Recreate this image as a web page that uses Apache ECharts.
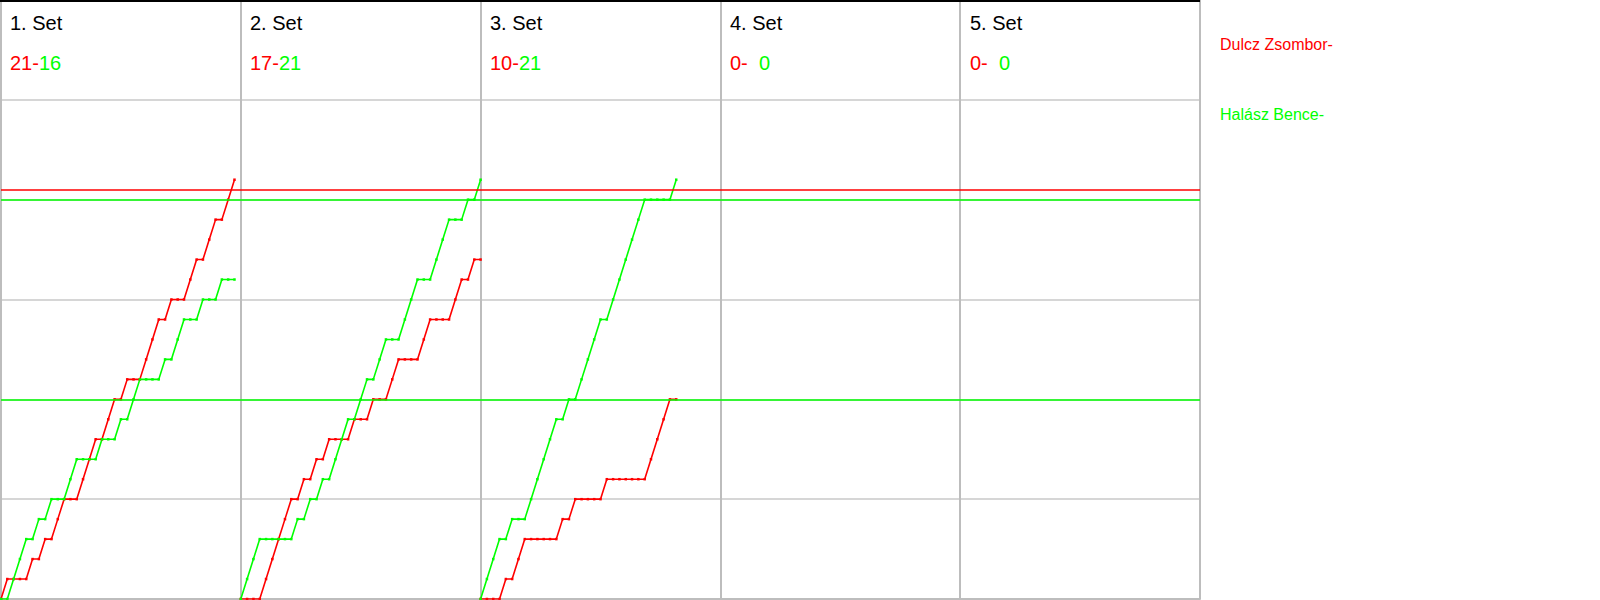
<!DOCTYPE html>
<html>
<head>
<meta charset="utf-8">
<script src="https://cdn.jsdelivr.net/npm/echarts@6/dist/echarts.min.js"></script>
<style>
  html, body { margin: 0; padding: 0; background: #ffffff; }
  #chart { width: 1600px; height: 600px; }
</style>
</head>
<body>
<div id="chart"></div>
<script>
// ---- data ----
const players = ['Dulcz Zsombor', 'Halász Bence'];
const setLabels = ['1. Set', '2. Set', '3. Set', '4. Set', '5. Set'];
const setScoresRed = [21, 17, 10, 0, 0];
const setScoresGreen = [16, 21, 21, 0, 0];

// running score after each rally (index 0 = start of set)
const set1Red   = [0,1,1,1,1,2,2,3,3,4,5,5,5,6,7,8,8,9,10,10,11,11,11,12,13,14,14,15,15,15,16,17,17,18,19,19,20,21];
const set1Green = [0,0,1,2,3,3,4,4,5,5,5,6,7,7,7,7,8,8,8,9,9,10,11,11,11,11,12,12,13,14,14,14,15,15,15,16,16,16];
const set2Red   = [0,0,0,0,1,2,3,4,5,5,6,6,7,7,8,8,8,8,9,9,9,10,10,10,11,12,12,12,12,13,14,14,14,14,15,16,16,17,17];
const set2Green = [0,1,2,3,3,3,3,3,3,4,4,5,5,6,6,7,8,9,9,10,11,11,12,13,13,13,14,15,16,16,16,17,18,19,19,19,20,20,21];
const set3Red   = [0,0,0,0,1,1,2,3,3,3,3,3,3,4,4,5,5,5,5,5,6,6,6,6,6,6,6,7,8,9,10,10];
const set3Green = [0,1,2,3,3,4,4,4,5,6,7,8,9,9,10,10,11,12,13,14,14,15,16,17,18,19,20,20,20,20,20,21];

const redSets = [set1Red, set2Red, set3Red];
const greenSets = [set1Green, set2Green, set3Green];

// reference lines (score levels)
const redRefLines = [20.5];
const greenRefLines = [20, 10];

// ---- chart ----
const RED = '#ff0000';
const GREEN = '#00ff00';
const FONT = '"Liberation Sans", Arial, sans-serif';
const numSets = setLabels.length;
const slotsPerSet = Math.max(...redSets.map(a => a.length)) - 1;
const xMax = slotsPerSet * numSets;

const chart = echarts.init(document.getElementById('chart'), null, { renderer: 'svg' });

function toPoints(arr, setIdx) {
  return arr.map((v, k) => [setIdx * slotsPerSet + k, v]);
}

const series = [];
function addSeries(sets, color) {
  sets.forEach((arr, i) => {
    series.push({
      type: 'line', data: toPoints(arr, i), color: color,
      symbol: 'rect', symbolSize: 2.5, showSymbol: true,
      lineStyle: { width: 1.6, color: color }, itemStyle: { color: color },
      silent: true, z: 3
    });
  });
}
addSeries(redSets, RED);
addSeries(greenSets, GREEN);

// reference lines
series.push({
  type: 'line', data: [], silent: true,
  markLine: {
    silent: true, symbol: ['none', 'none'], label: { show: false },
    animation: false,
    data: redRefLines.map(v => ({ yAxis: v, lineStyle: { color: RED, width: 1.5, type: 'solid' } }))
      .concat(greenRefLines.map(v => ({ yAxis: v, lineStyle: { color: GREEN, width: 1.5, type: 'solid' } })))
  }
});

const graphics = [
  { type: 'rect', shape: { x: 0, y: 0, width: 1200, height: 2 }, style: { fill: '#000' }, z: 10, silent: true }
];
setLabels.forEach((lab, i) => {
  const x0 = i * 240 + 10;
  graphics.push({
    type: 'text', x: x0, y: 23, z: 10, silent: true,
    style: { text: lab, fill: '#000', font: '20px ' + FONT, verticalAlign: 'middle', align: 'left' }
  });
  const rs = String(setScoresRed[i]) + '-';
  const gs = setScoresGreen[i] < 10 ? '  ' + setScoresGreen[i] : String(setScoresGreen[i]);
  graphics.push({
    type: 'text', x: x0, y: 63, z: 10, silent: true,
    style: {
      text: '{r|' + rs + '}{g|' + gs + '}',
      font: '20px ' + FONT,
      verticalAlign: 'middle', align: 'left',
      rich: {
        r: { fill: RED, font: '20px ' + FONT },
        g: { fill: GREEN, font: '20px ' + FONT }
      }
    }
  });
});
players.forEach((p, i) => {
  graphics.push({
    type: 'text', x: 1220, y: 44 + i * 70, z: 10, silent: true,
    style: { text: p + '-', fill: i === 0 ? RED : GREEN, font: '16px ' + FONT, verticalAlign: 'middle', align: 'left' }
  });
});

chart.setOption({
  animation: false,
  backgroundColor: '#ffffff',
  grid: { left: 1, right: 400, top: 0, bottom: 1, containLabel: false },
  xAxis: {
    type: 'value', min: 0, max: xMax, interval: slotsPerSet,
    axisLine: { show: true, lineStyle: { color: '#bdbdbd', width: 2 } },
    axisTick: { show: false }, axisLabel: { show: false },
    splitLine: { show: true, lineStyle: { color: '#bdbdbd', width: 2 } }
  },
  yAxis: {
    type: 'value', min: 0, max: 30, interval: 5,
    axisLine: { show: false },
    axisTick: { show: false }, axisLabel: { show: false },
    splitLine: { show: true, lineStyle: { color: '#d6d6d6', width: 2 } }
  },
  series: series,
  graphic: graphics
});
</script>
</body>
</html>
